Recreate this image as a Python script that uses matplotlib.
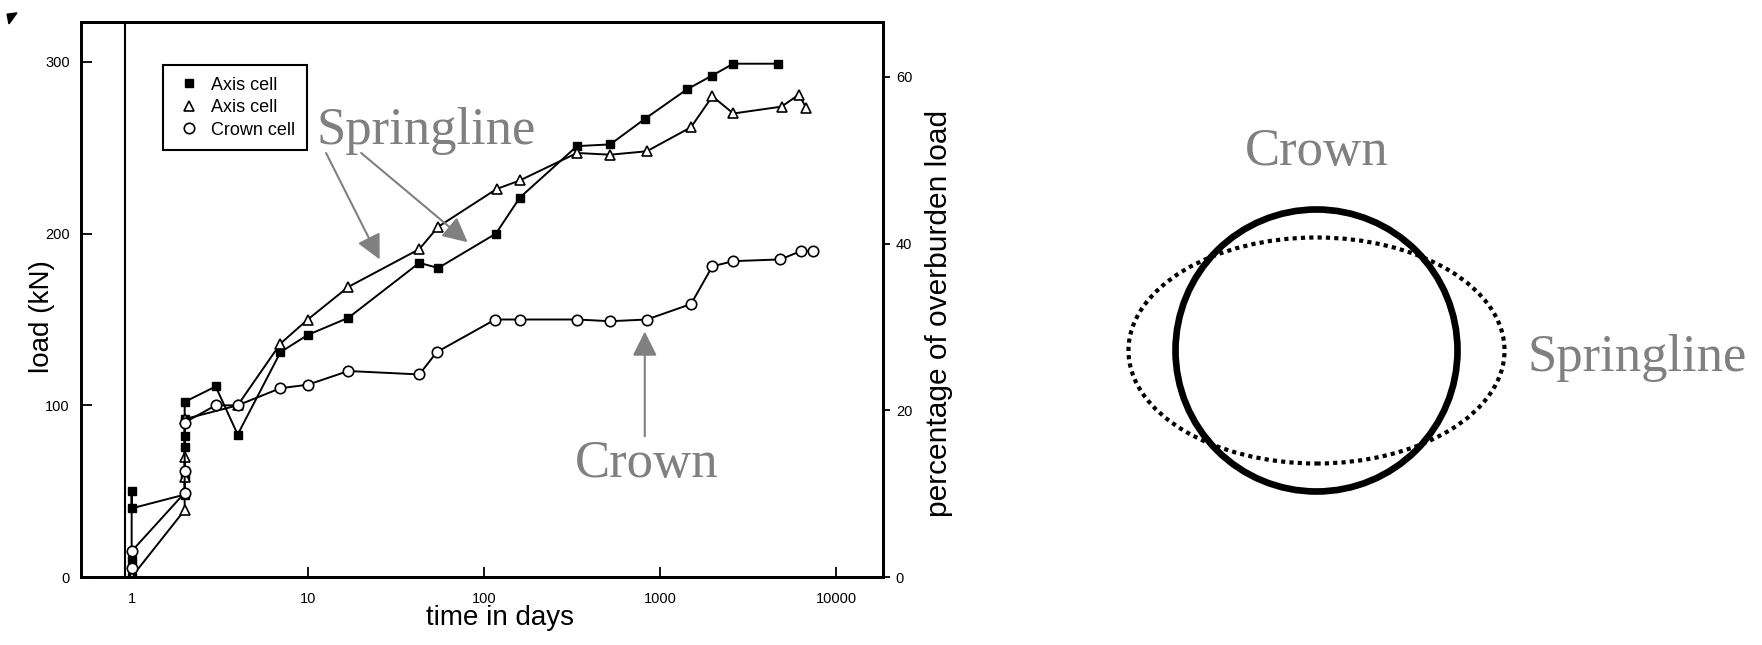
import matplotlib
matplotlib.use('Agg')
import matplotlib.pyplot as plt
from matplotlib.lines import Line2D
from matplotlib.patches import Circle, Ellipse, Polygon
from matplotlib.ticker import NullLocator

# values
# axis cell (filled squares)
sq_days = [1, 1, 1, 1, 2, 2, 2, 2, 2, 2, 3, 4, 7, 10, 17, 43, 55, 117, 160,
           338, 522, 824, 1420, 1970, 2610, 4690]
sq_load = [0, 10, 50, 40, 48, 58, 76, 82, 92, 102, 111, 83, 131, 141, 151, 183,
           180, 200, 221, 251, 252, 267, 284, 292, 299, 299]

# axis cell (open triangles)
tri_days = [1, 2, 2, 2, 2, 4, 7, 10, 17, 43, 55, 118, 160, 338, 522, 842, 1500,
            1985, 2610, 4900, 6150, 6790]
tri_load = [0, 39, 58, 70, 92, 100, 136, 150, 169, 191, 204, 226, 231, 247,
            246, 248, 262, 280, 270, 274, 281, 273]

# crown cell (open circles)
cr_days = [1, 1, 2, 2, 2, 3, 4, 7, 10, 17, 43, 54, 116, 160, 338, 522, 842,
           1500, 1985, 2610, 4830, 6360, 7410]
cr_load = [5, 15, 49, 62, 90, 100, 100, 110, 112, 120, 118, 131, 150, 150, 150,
           149, 150, 159, 181, 184, 185, 190, 190]

xticks = [1, 10, 100, 1000, 10000]
xtick_labels = ['1', '10', '100', '1000', '10000']
yticks_left = [0, 100, 200, 300]
yticks_right = [0, 20, 40, 60]
legend_labels = ['Axis cell', 'Axis cell', 'Crown cell']

plt.rcParams['font.family'] = ['Liberation Sans', 'DejaVu Sans']
gray = '#808080'
serif = ['Liberation Serif', 'DejaVu Serif']

fig = plt.figure(figsize=(17.62, 6.45), dpi=100)
ax = fig.add_axes([0.046, 0.1054, 0.4549, 0.8605])

ax.plot(sq_days, sq_load, color='k', lw=1.4, marker='s', ms=6, mfc='k', mec='k')
ax.plot(tri_days, tri_load, color='k', lw=1.4, marker='^', ms=7, mfc='white',
        mec='k', mew=1.2)
ax.plot(cr_days, cr_load, color='k', lw=1.4, marker='o', ms=7.5, mfc='white',
        mec='k', mew=1.2)
ax.axvline(0.916, color='k', lw=1.5)

ax.set_xscale('log')
ax.set_xlim(0.516, 18370)
ax.set_ylim(0, 323.3)
ax.xaxis.set_minor_locator(NullLocator())
ax.set_xticks(xticks)
ax.set_xticklabels(xtick_labels)
ax.set_yticks(yticks_left)
ax.tick_params(axis='x', direction='in', length=7, width=1.3, pad=10.5, labelsize=10.5)
ax.tick_params(axis='y', direction='in', length=8, width=1.3, pad=8, labelsize=10.5)
for s in ax.spines.values():
    s.set_linewidth(2)

ax.set_xlabel('time in days', fontsize=20)
ax.xaxis.set_label_coords(0.523, -0.05)
ax.set_ylabel('load (kN)', fontsize=20)
ax.yaxis.set_label_coords(-0.0324, 0.469)

ax2 = ax.twinx()
ax2.set_ylim(0, 66.6)
ax2.set_yticks(yticks_right)
ax2.tick_params(axis='y', direction='out', length=5, width=1.3, pad=4.5, labelsize=10.5)
for s in ax2.spines.values():
    s.set_linewidth(2)
ax2.set_ylabel('percentage of overburden load', fontsize=21.5)
ax2.yaxis.set_label_coords(1.0525, 0.4757)

handles = [
    Line2D([], [], ls='none', marker='s', ms=6, color='k'),
    Line2D([], [], ls='none', marker='^', ms=7, mfc='white', mec='k', mew=1.2),
    Line2D([], [], ls='none', marker='o', ms=7.5, mfc='white', mec='k', mew=1.2),
]
leg = ax.legend(handles, legend_labels, loc='upper left',
                bbox_to_anchor=(0.1023, 0.9225), borderaxespad=0,
                fontsize=13, fancybox=False, framealpha=1, edgecolor='k',
                handlelength=1.6, handletextpad=0.4, borderpad=0.65,
                labelspacing=0.3)
leg.get_frame().set_linewidth(1.5)

# gray call-outs
arrow = dict(arrowstyle='-|>,head_length=0.6,head_width=0.3', color=gray,
             lw=1.5, mutation_scale=25, shrinkA=0, shrinkB=0)
ax.text(11.2, 252, 'Springline', family=serif, fontsize=38, color=gray,
        ha='left', va='baseline')
ax.annotate('', xy=(25.6, 185), xytext=(12.7, 247), arrowprops=arrow)
ax.annotate('', xy=(80.9, 195), xytext=(20.1, 247), arrowprops=arrow)
ax.text(330, 58, 'Crown', family=serif, fontsize=38, color=gray,
        ha='left', va='baseline')
ax.annotate('', xy=(820, 143), xytext=(820, 82), arrowprops=arrow)

# tunnel deformation sketch
dax = fig.add_axes([1100 / 1762, 0, 662 / 1762, 1])
dax.set_xlim(-1.5355, 3.1596)
dax.set_ylim(-2.0887, 2.4858)
dax.axis('off')
dax.add_patch(Circle((0, 0), 1.0, fill=False, lw=4.8, color='k'))
dax.add_patch(Ellipse((0, 0), 2.667, 1.603, fill=False, lw=3, color='k',
                      ls=(0, (1, 1))))
dax.text(0, 1.316, 'Crown', family=serif, fontsize=38, color=gray,
         ha='center', va='baseline')
dax.text(1.5, -0.145, 'Springline', family=serif, fontsize=38, color=gray,
         ha='left', va='baseline')

# small scan mark in the corner
fig.add_artist(Polygon([(0.004, 0.978), (0.0096, 0.980), (0.0051, 0.963)],
                       closed=True, transform=fig.transFigure, color='k'))

fig.savefig('out.png', dpi=100)
